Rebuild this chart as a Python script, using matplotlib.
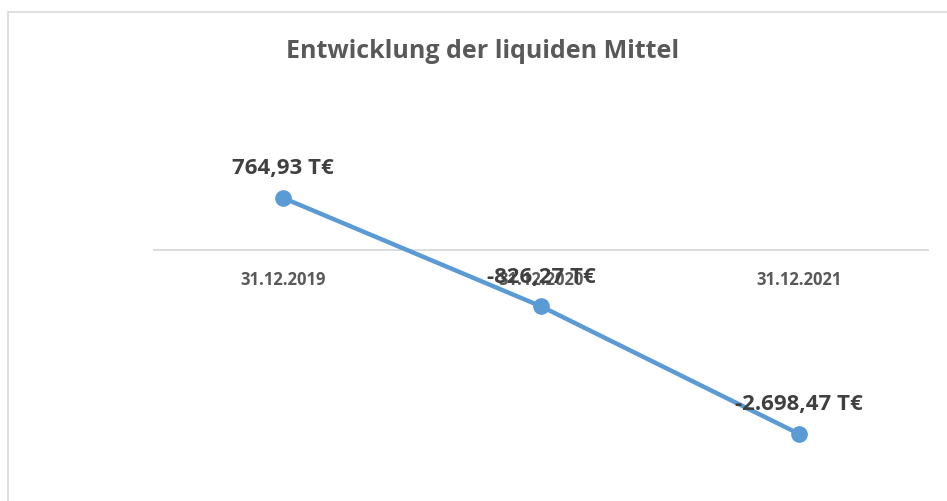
import matplotlib
matplotlib.use("Agg")
import matplotlib.pyplot as plt
from matplotlib.patches import Rectangle

# Daten (T€)
dates = ["31.12.2019", "31.12.2020", "31.12.2021"]
values = [764.93, -826.27, -2698.47]

title = "Entwicklung der liquiden Mittel"


def fmt_de(v):
    s = f"{v:,.2f}"
    s = s.replace(",", "X").replace(".", ",").replace("X", ".")
    return s + " T€"


plt.rcParams["font.family"] = ["Open Sans", "DejaVu Sans"]

W, H = 947, 501
fig = plt.figure(figsize=(W / 100, H / 100), dpi=100)

# outer chart frame (like the Excel chart area border)
fig.patches.append(Rectangle((8 / W, -0.1), 1.2, 1.1 - 12 / H, transform=fig.transFigure,
                             facecolor="none", edgecolor="#D9D9D9", linewidth=1.2))

ax = fig.add_axes((154 / W, 11 / H, 774 / W, 410 / H))
x = list(range(len(dates)))
ax.plot(x, values, color="#5B9BD5", linewidth=3.2, marker="o", markersize=11,
        solid_capstyle="round", zorder=3)

ax.set_xlim(-0.5, len(dates) - 0.5)
ax.set_ylim(-3522, 2495)

for s in ["top", "right", "left"]:
    ax.spines[s].set_visible(False)
ax.spines["bottom"].set_position(("data", 0))
ax.spines["bottom"].set_color("#D9D9D9")
ax.spines["bottom"].set_linewidth(1.3)
ax.set_yticks([])
ax.set_xticks(x)
ax.set_xticklabels(dates, fontsize=12, fontweight="bold", color="#595959")
ax.tick_params(axis="x", length=0, pad=15)

# data labels above the points (the middle one sits on top of the tick label, as in the original)
for xi, v in zip(x, values):
    ax.annotate(fmt_de(v), (xi, v), xytext=(0, 21), textcoords="offset points",
                ha="center", va="center", fontsize=16, fontweight="bold",
                color="#404040", zorder=4)

fig.text(483 / W, 1 - 52 / H, title, ha="center", va="center", fontsize=18,
         fontweight="bold", color="#595959")

fig.savefig("out.png", dpi=100)
